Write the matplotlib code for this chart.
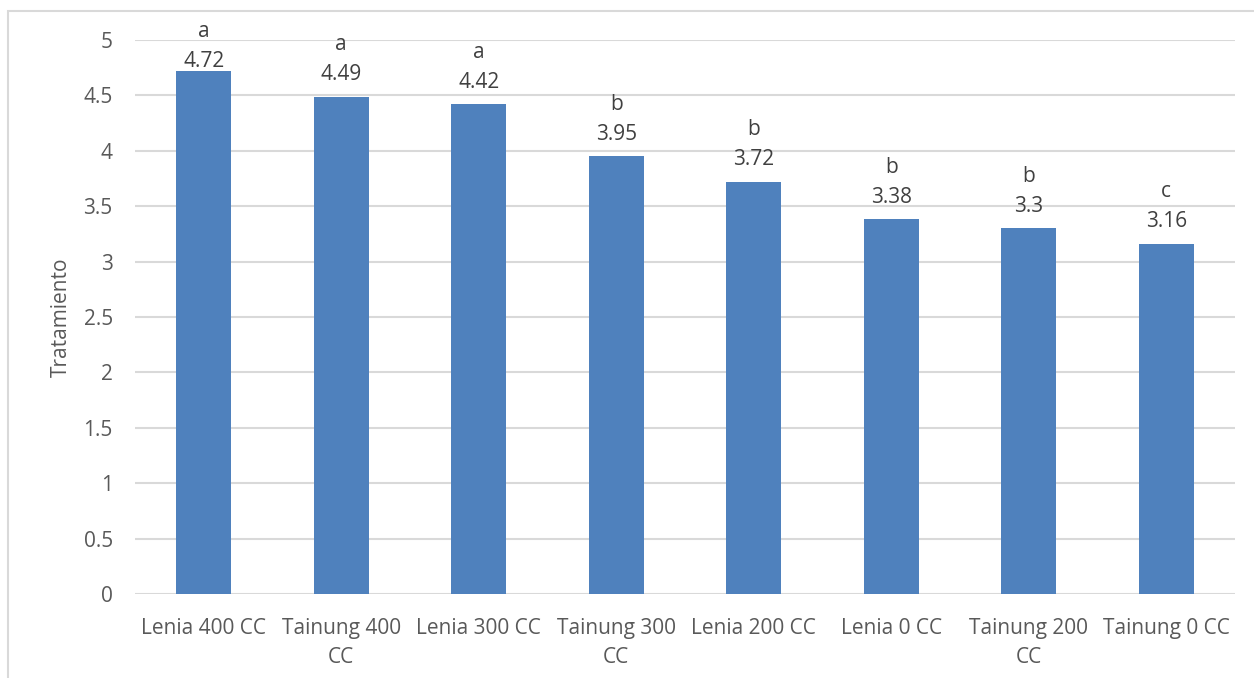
import matplotlib.pyplot as plt
from matplotlib.patches import Rectangle

# tratamientos y valores medios
categorias = ["Lenia 400 CC", "Tainung 400\nCC", "Lenia 300 CC", "Tainung 300\nCC",
              "Lenia 200 CC", "Lenia 0 CC", "Tainung 200\nCC", "Tainung 0 CC"]
valores = [4.72, 4.49, 4.42, 3.95, 3.72, 3.38, 3.3, 3.16]
letras = ["a", "a", "a", "b", "b", "b", "b", "c"]
yticks = [0, 0.5, 1, 1.5, 2, 2.5, 3, 3.5, 4, 4.5, 5]

gris = "#595959"
plt.rcParams['font.family'] = ['Open Sans', 'DejaVu Sans']

fig = plt.figure(figsize=(12.54, 6.78), dpi=100)
ax = fig.add_axes([135/1254, 1 - 594/678, 1100/1254, 554/678])

x = range(len(categorias))
ax.bar(x, valores, width=0.4, color="#4F81BD", zorder=3)

# etiquetas: letra de significancia encima del valor
for i, (v, l) in enumerate(zip(valores, letras)):
    y = min(v + 0.105, 4.71)
    ax.text(i, y, f"{l}\n{v:g}", ha="center", va="bottom",
            fontsize=15, color="#404040", linespacing=1.55)

ax.set_xlim(-0.5, len(categorias) - 0.5)
ax.set_ylim(0, 5)
ax.set_yticks(yticks)
ax.set_yticklabels([f"{t:g}" for t in yticks])
ax.set_xticks(list(x))
ax.set_xticklabels(categorias, linespacing=1.5)
ax.tick_params(axis="both", length=0, labelsize=15, labelcolor=gris)
ax.tick_params(axis="x", pad=17)
ax.tick_params(axis="y", pad=16)
ax.grid(axis="y", color="#D9D9D9", linewidth=1.5, zorder=0)
for s in ax.spines.values():
    s.set_visible(False)
ax.set_ylabel("Tratamiento", fontsize=15, color=gris, labelpad=8)

# marco exterior del gráfico
fig.patches.append(Rectangle((8/1254, -0.1), 1.2, 1.1 - 11/678,
                             transform=fig.transFigure, fill=False,
                             edgecolor="#D9D9D9", linewidth=1.5))

fig.savefig("out.png", dpi=100)
